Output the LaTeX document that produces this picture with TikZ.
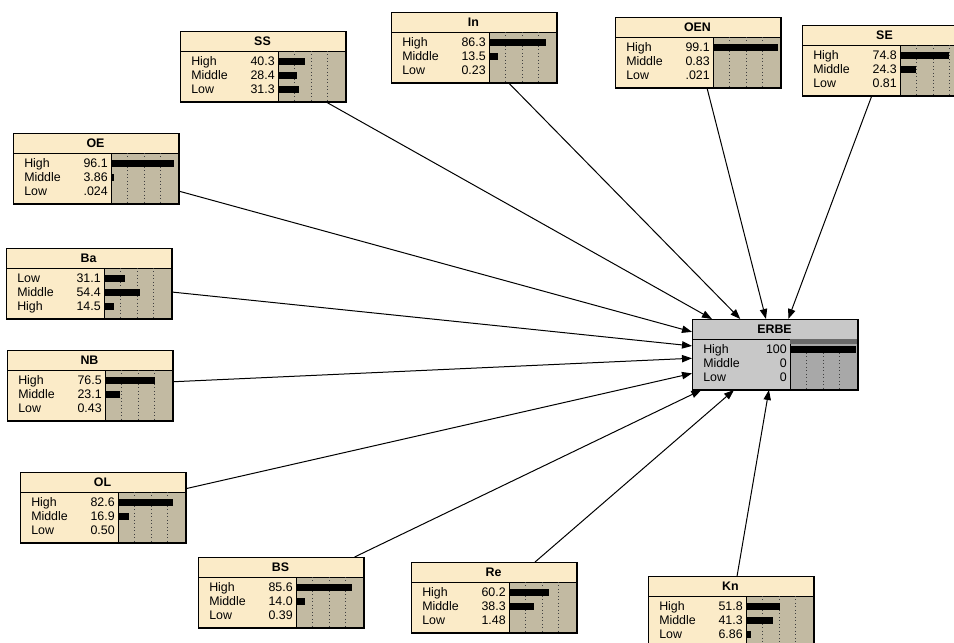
\documentclass[tikz,border=0pt]{standalone}
\usepackage{fontspec}
\setmainfont{Liberation Sans}
\usetikzlibrary{arrows.meta}
\definecolor{cream}{HTML}{FBEBC8}
\definecolor{tanbar}{HTML}{C2BAA2}
\definecolor{erbebg}{HTML}{C8C8C8}
\definecolor{erbebar}{HTML}{A8A8A8}
\definecolor{erbedark}{HTML}{6A6A6A}
\tikzset{
  bnbox/.style={draw=black, line width=0.75pt, minimum width=123.75pt, minimum height=52.5pt, inner sep=0pt, anchor=north west},
  lab/.style={anchor=base west, inner sep=0pt, font=\fontsize{9.3}{10}\selectfont},
  val/.style={anchor=base east, inner sep=0pt, font=\fontsize{9.3}{10}\selectfont},
  ttl/.style={anchor=base, inner sep=0pt, font=\fontsize{9.3}{10}\selectfont\bfseries},
  gridln/.style={dotted, line width=0.6pt, black!75},
  sepln/.style={line width=0.75pt, black},
  link/.style={line width=0.75pt, black, -{Triangle[length=7.5pt,width=5.5pt]}}
}
\newcommand\bnnode[7]{%
  \node[bnbox, fill=#6] (#1) at (#2,#3) {};
  \begin{scope}[shift={(#2,#3)}]
    \fill[#7] (98,20) rectangle (165,70);
    \draw[sepln] (0,20) -- (165,20);
    \draw[sepln] (98,20) -- (98,70);
    \foreach \k in {1,2,3} \draw[gridln] (98+16.5*\k,20) -- (98+16.5*\k,70);
    \node[ttl] (#1-t) at (82.5,14.3) {#4};
    \foreach \lab/\v [count=\i] in {#5} {
      \pgfmathsetmacro\yy{16+14*\i}
      \node[lab] (#1-l\i) at (11,\yy+4.3) {\lab};
      \node[val] (#1-v\i) at (95,\yy+4.3) {\v};
      \pgfmathsetmacro\w{0.66*\v}
      \fill[black] (98,\yy-3) rectangle (98+\w,\yy+4.3);
    }
  \end{scope}
  \draw[line width=0.75pt] (#1.north west) rectangle (#1.south east);
}
\begin{document}
\begin{tikzpicture}[x=0.75pt,y=-0.75pt]
  \useasboundingbox (0,0) rectangle (954,643);
  \clip (0,0) rectangle (954,643);
  \fill[white] (0,0) rectangle (954,643);

  \bnnode{SS}{180}{31}{SS}{High/40.3,Middle/28.4,Low/31.3}{cream}{tanbar}
  \bnnode{In}{391}{12}{In}{High/86.3,Middle/13.5,Low/0.23}{cream}{tanbar}
  \bnnode{OEN}{615}{17}{OEN}{High/99.1,Middle/0.83,Low/.021}{cream}{tanbar}
  \bnnode{SE}{802}{25}{SE}{High/74.8,Middle/24.3,Low/0.81}{cream}{tanbar}
  \bnnode{OE}{13}{133}{OE}{High/96.1,Middle/3.86,Low/.024}{cream}{tanbar}
  \bnnode{Ba}{6}{248}{Ba}{Low/31.1,Middle/54.4,High/14.5}{cream}{tanbar}
  \bnnode{NB}{7}{350}{NB}{High/76.5,Middle/23.1,Low/0.43}{cream}{tanbar}
  \bnnode{OL}{20}{472}{OL}{High/82.6,Middle/16.9,Low/0.50}{cream}{tanbar}
  \bnnode{BS}{198}{557}{BS}{High/85.6,Middle/14.0,Low/0.39}{cream}{tanbar}
  \bnnode{Re}{411}{562}{Re}{High/60.2,Middle/38.3,Low/1.48}{cream}{tanbar}
  \bnnode{Kn}{648}{576}{Kn}{High/51.8,Middle/41.3,Low/6.86}{cream}{tanbar}
  \bnnode{ERBE}{692}{319}{ERBE}{High/100,Middle/0,Low/0}{erbebg}{erbebar}
  \fill[erbedark] (790.4,339.4) rectangle (856.6,343.5);
  \draw[line width=0.75pt] (ERBE.north west) rectangle (ERBE.south east);

  \foreach \src in {SS,In,OEN,SE,OE,Ba,NB,OL,BS,Re,Kn}
    \draw[link] (\src) -- (ERBE);
\end{tikzpicture}
\end{document}
